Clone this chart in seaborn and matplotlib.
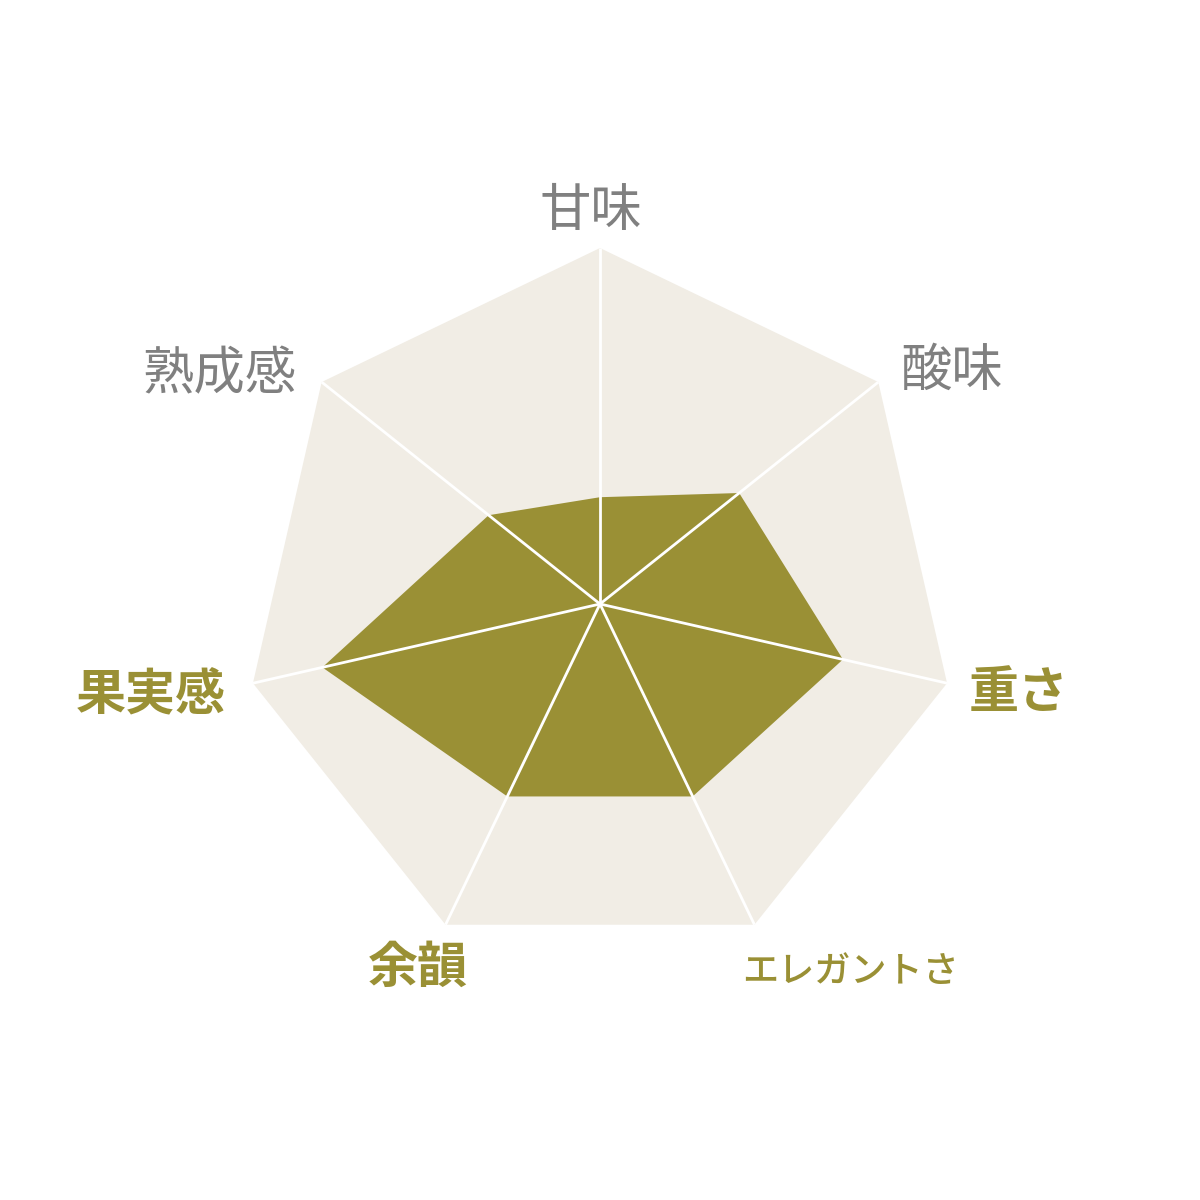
import numpy as np
import matplotlib
matplotlib.use("Agg")
import matplotlib.pyplot as plt
import seaborn as sns

# ---- data ----
categories = ["甘味", "酸味", "重さ", "エレガントさ", "余韻", "果実感", "熟成感"]
values = [1.5, 2.5, 3.5, 3.0, 3.0, 4.0, 2.0]
max_value = 5
highlight = [False, False, True, True, True, True, False]

# ---- style ----
sns.set_theme(style="white")
plt.rcParams["font.family"] = ["Noto Sans CJK JP", "DejaVu Sans"]

OLIVE = "#9A9035"
BG = "#F1EDE5"
GRAY = "#808080"

fig = plt.figure(figsize=(12, 12), dpi=100)
fig.patch.set_facecolor("white")
ax = fig.add_axes([0.20333, 0.2, 0.59333, 0.59333], projection="polar")
ax.set_theta_offset(np.pi / 2)
ax.set_theta_direction(-1)
ax.set_facecolor("none")

n = len(categories)
angles = np.linspace(0, 2 * np.pi, n, endpoint=False)
closed_angles = np.append(angles, angles[0])

# background heptagon
ax.fill(closed_angles, [max_value] * (n + 1), color=BG, lw=0, zorder=1)
# data polygon
closed_vals = values + values[:1]
ax.fill(closed_angles, closed_vals, color=OLIVE, lw=0, zorder=2)
# spokes
for a in angles:
    ax.plot([a, a], [0, max_value], color="white", lw=2, zorder=3,
            solid_capstyle="butt")

ax.set_ylim(0, max_value)
ax.set_xticks([])
ax.set_yticks([])
ax.grid(False)
ax.spines["polar"].set_visible(False)

# labels: (dx, dy, ha, size, weight)
label_style = [
    (-9, 37, "center", 37, "normal"),
    (22, 11, "left", 37, "normal"),
    (22, -10, "left", 36, "bold"),
    (-12, -47, "left", 26, "medium"),
    (-28, -44, "center", 36, "bold"),
    (-27, -13, "right", 36, "bold"),
    (-25, 8, "right", 37, "normal"),
]
for cat, a, hl, (dx, dy, ha, fs, fw) in zip(categories, angles, highlight, label_style):
    ax.annotate(cat, xy=(a, max_value), xytext=(dx, dy),
                textcoords="offset pixels", ha=ha, va="center",
                fontsize=fs, color=OLIVE if hl else GRAY,
                fontweight=fw,
                annotation_clip=False, zorder=5)

fig.savefig("out.png", dpi=100, facecolor="white")
